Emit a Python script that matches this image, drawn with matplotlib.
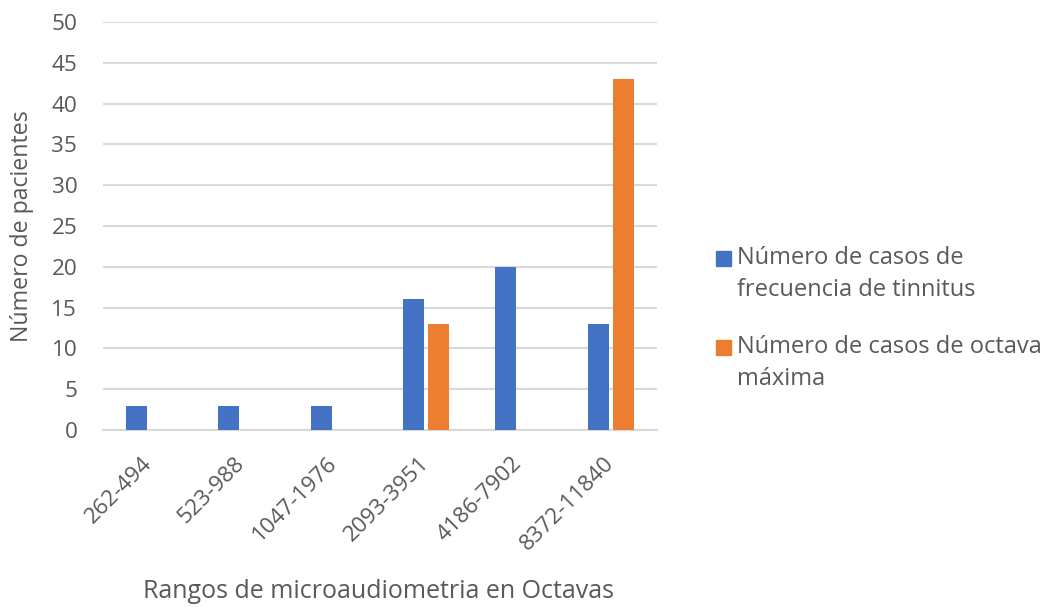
import matplotlib.pyplot as plt
from matplotlib.patches import Rectangle
import numpy as np

plt.rcParams['font.family'] = ['Open Sans', 'DejaVu Sans']

categories = ['262-494', '523-988', '1047-1976', '2093-3951', '4186-7902', '8372-11840']
tinnitus = [3, 3, 3, 16, 20, 13]
octava = [0, 0, 0, 13, 0, 43]
series_names = ['Número de casos de\nfrecuencia de tinnitus', 'Número de casos de octava\nmáxima']

blue = '#4472C4'
orange = '#ED7D31'
txt = '#595959'
grid = '#D9D9D9'

W, H = 1046, 607
fig = plt.figure(figsize=(W / 100, H / 100), dpi=100)
ax = fig.add_axes([103 / W, 1 - 430 / H, 554 / W, 408 / H])

x = np.arange(len(categories))
w = 0.225
ax.bar(x - 0.137, tinnitus, w, color=blue, zorder=3)
ax.bar(x + 0.137, octava, w, color=orange, zorder=3)

ax.set_xlim(-0.5, len(categories) - 0.5)
ax.set_ylim(0, 50)
ax.set_yticks(range(0, 51, 5))
ax.yaxis.grid(True, color=grid, lw=1.5, zorder=0)
for s in ['top', 'right', 'left']:
    ax.spines[s].set_visible(False)
ax.spines['bottom'].set_color(grid)
ax.spines['bottom'].set_linewidth(1.5)
ax.tick_params(axis='y', length=0, labelsize=16.2, colors=txt, pad=18.5)
ax.tick_params(axis='x', length=0, labelsize=16.2, colors=txt, pad=22)
ax.set_xticks(x)
ax.set_xticklabels(categories, rotation=45, ha='right', va='center', rotation_mode='anchor')

ax.set_ylabel('Número de pacientes', fontsize=16.7, color=txt)
ax.yaxis.set_label_coords(-0.124, 0.5)
ax.set_xlabel('Rangos de microaudiometria en Octavas', fontsize=18, color=txt)
ax.xaxis.set_label_coords(0.498, -0.395)
ax.xaxis.label.set_va('center')

# legend drawn by hand so the square sits on the first text line
leg_colors = [blue, orange]
leg_y = [258, 347]
for name, col, y0 in zip(series_names, leg_colors, leg_y):
    fig.patches.append(Rectangle((716 / W, 1 - (y0 + 7.5) / H), 15 / W, 15 / H,
                                 transform=fig.transFigure, color=col, figure=fig))
    for i, line in enumerate(name.split('\n')):
        fig.text(737 / W, 1 - (y0 + i * 32) / H, line, fontsize=17, color=txt,
                 ha='left', va='center')

fig.savefig('out.png', dpi=100)
